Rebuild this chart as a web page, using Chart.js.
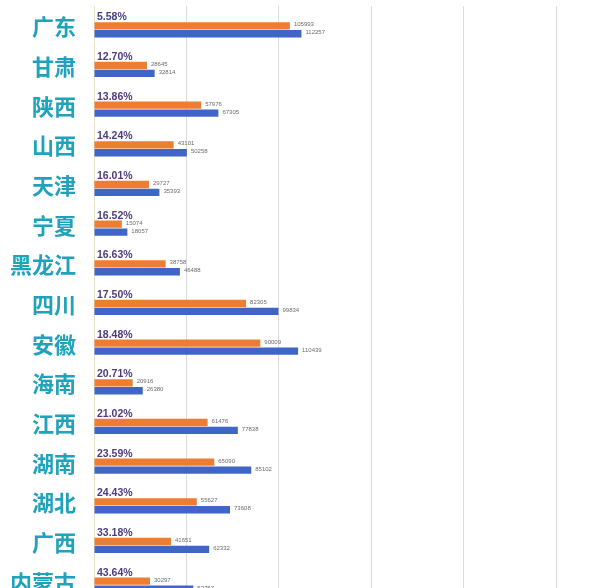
<!DOCTYPE html>
<html>
<head>
<meta charset="utf-8">
<script src="https://cdn.jsdelivr.net/npm/chart.js@4/dist/chart.umd.min.js"></script>
<style>
  html, body { margin: 0; padding: 0; background: #fff; overflow: hidden; }
  #wrap { width: 600px; height: 601px; }
</style>
</head>
<body>
<div id="wrap"><canvas id="myChart"></canvas></div>
<script>
const provinces = ['广东', '甘肃', '陕西', '山西', '天津', '宁夏', '黑龙江', '四川',
  '安徽', '海南', '江西', '湖南', '湖北', '广西', '内蒙古'];
const orangeValues = [105993, 28645, 57976, 43101, 29727, 15074, 38758, 82305,
  90009, 20916, 61476, 65090, 55627, 41651, 30297];
const blueValues = [112257, 32814, 67305, 50258, 35393, 18057, 46488, 99834,
  110439, 26380, 77838, 85102, 73608, 62332, 53757];
const pctLabels = ['5.58%', '12.70%', '13.86%', '14.24%', '16.01%', '16.52%', '16.63%', '17.50%',
  '18.48%', '20.71%', '21.02%', '23.59%', '24.43%', '33.18%', '43.64%'];

const orange = '#ed7d31';
const blue = '#3f66c6';

// province names, value labels and percentages (drawn by hand so the
// y axis does not reserve extra room above/below the bars)
const barLabels = {
  id: 'barLabels',
  afterDatasetsDraw(chart) {
    const ctx = chart.ctx;
    const yScale = chart.scales.y;
    ctx.save();
    ctx.textBaseline = 'middle';

    ctx.font = "bold 22px 'Noto Sans CJK SC', sans-serif";
    ctx.fillStyle = '#1fa2ba';
    ctx.textAlign = 'right';
    chart.data.labels.forEach((name, i) => {
      ctx.fillText(name, 76, yScale.getPixelForValue(i) + 1);
    });

    ctx.textAlign = 'left';
    [1, 2].forEach(di => {
      const meta = chart.getDatasetMeta(di);
      meta.data.forEach((bar, i) => {
        ctx.font = '6px "Liberation Sans", sans-serif';
        ctx.fillStyle = '#6b6b6b';
        const v = chart.data.datasets[di].data[i];
        ctx.fillText(String(v), bar.x + 4, bar.y - 1);
        if (di === 1) {
          ctx.font = 'bold 10.5px "Liberation Sans", sans-serif';
          ctx.fillStyle = '#4b3c7e';
          ctx.fillText(pctLabels[i], chart.chartArea.left + 3, bar.y - bar.height - 1);
        }
      });
    });
    ctx.restore();
  }
};

const data = {
  labels: provinces,
  datasets: [{
    label: 'spacer',
    data: provinces.map(() => null),
    backgroundColor: 'rgba(0,0,0,0)'
  }, {
    label: 'orange',
    data: orangeValues,
    backgroundColor: orange
  }, {
    label: 'blue',
    data: blueValues,
    backgroundColor: blue
  }]
};

const config = {
  type: 'bar',
  data,
  options: {
    indexAxis: 'y',
    responsive: true,
    maintainAspectRatio: false,
    animation: false,
    layout: {
      padding: { top: 6, right: 44, bottom: 0, left: 0 }
    },
    datasets: {
      bar: {
        categoryPercentage: 0.6,
        barPercentage: 0.92
      }
    },
    scales: {
      x: {
        min: 0,
        max: 250000,
        ticks: { display: false, stepSize: 50000 },
        border: { display: false },
        grid: {
          color: '#dcdcdc',
          lineWidth: 1,
          drawTicks: false
        }
      },
      y: {
        afterFit: (scale) => { scale.width = 94; },
        ticks: { display: false },
        border: { display: true, color: '#e6e2c8' },
        grid: { display: false, drawTicks: false }
      }
    },
    plugins: {
      legend: { display: false },
      tooltip: { enabled: false }
    }
  },
  plugins: [barLabels]
};

const myChart = new Chart(
  document.getElementById('myChart'),
  config
);
</script>
</body>
</html>
